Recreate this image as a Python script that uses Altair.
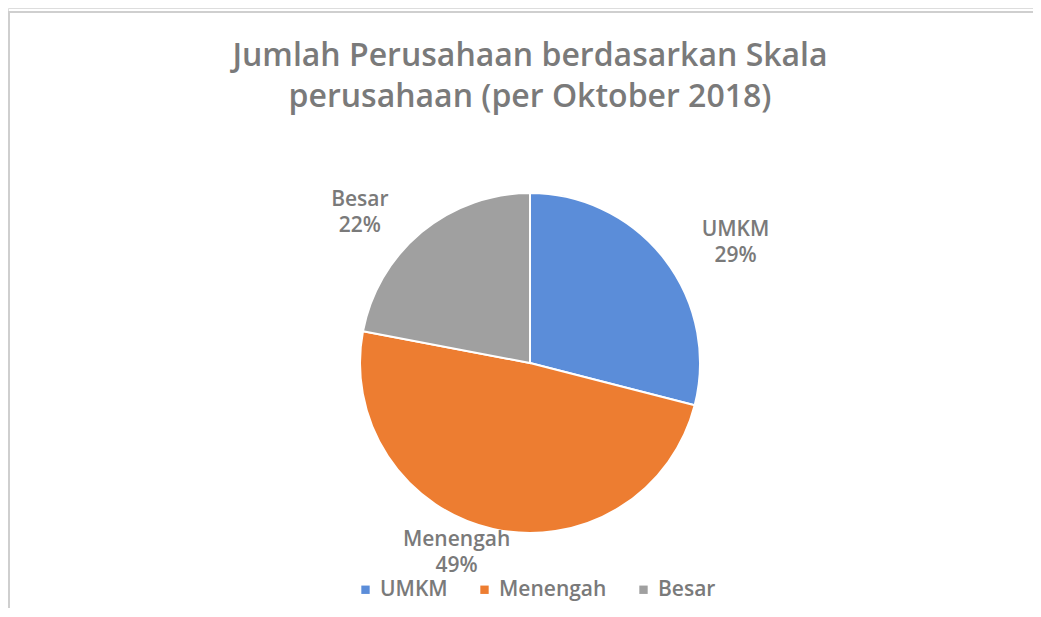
import altair as alt
import pandas as pd

categories = ["UMKM", "Menengah", "Besar"]
shares = [29, 49, 22]
colors = ["#5B8DD9", "#ED7D31", "#A0A0A0"]
title_lines = "Jumlah Perusahaan berdasarkan Skala\nperusahaan (per Oktober 2018)"

df = pd.DataFrame({
    "kategori": categories,
    "persen": shares,
    "urut": list(range(len(categories))),
})
df["label"] = df["kategori"] + "\n" + df["persen"].astype(str) + "%"

FONT = "Open Sans"
TXT = "#7a7a7a"
cx, cy = 522, 355
rx, ry = 264, 195

color = alt.Color(
    "kategori:N",
    scale=alt.Scale(domain=categories, range=colors),
    sort=categories,
    legend=alt.Legend(
        title=None, orient="none", legendX=347, legendY=571, direction="horizontal",
        symbolType="square", symbolSize=70, labelFontSize=21, labelColor=TXT,
        labelFont=FONT, labelFontWeight=600, columnPadding=26, symbolStrokeWidth=0,
    ),
)

base = alt.Chart(df).encode(
    theta=alt.Theta("persen:Q", stack=True),
    order=alt.Order("urut:Q"),
)

pie = base.mark_arc(radius=170, stroke="white", strokeWidth=2).encode(
    color=color, x=alt.value(cx), y=alt.value(cy)
)

labels = alt.Chart(df).transform_joinaggregate(
    total="sum(persen)"
).transform_window(
    cum="sum(persen)", sort=[alt.SortField("urut")]
).transform_calculate(
    mid="(datum.cum - datum.persen / 2) / datum.total * 2 * PI",
    lx=f"{cx} + {rx} * sin(datum.mid) - 8 * (1 - cos(datum.mid))",
    ly=f"{cy} - 13 - {ry} * cos(datum.mid)",
).mark_text(
    fontSize=21, font=FONT, fontWeight=600, color=TXT, lineBreak="\n",
    lineHeight=26, align="center", baseline="middle",
).encode(
    text="label:N",
    x=alt.X("lx:Q", scale=None),
    y=alt.Y("ly:Q", scale=None),
)

title = alt.Chart(pd.DataFrame({"t": [title_lines]})).mark_text(
    fontSize=32, font=FONT, fontWeight=600, color=TXT, lineBreak="\n", lineHeight=41,
    align="center", baseline="middle",
).encode(text="t:N", x=alt.value(cx), y=alt.value(48))

frame_df = pd.DataFrame({"k": [0]})
top_line = alt.Chart(frame_df).mark_rule(color="#cfcfcf", strokeWidth=2).encode(
    x=alt.value(0), x2=alt.value(1025), y=alt.value(4)
)
left_line = alt.Chart(frame_df).mark_rule(color="#cfcfcf", strokeWidth=2).encode(
    x=alt.value(1), y=alt.value(4), y2=alt.value(600)
)

chart = alt.layer(top_line, left_line, pie, labels, title).properties(
    width=1025, height=600, padding=0,
    autosize=alt.AutoSizeParams(type="none"),
).configure_view(stroke=None).configure(background="white")

chart.save("out.html", embed_options={"renderer": "svg", "actions": False})
